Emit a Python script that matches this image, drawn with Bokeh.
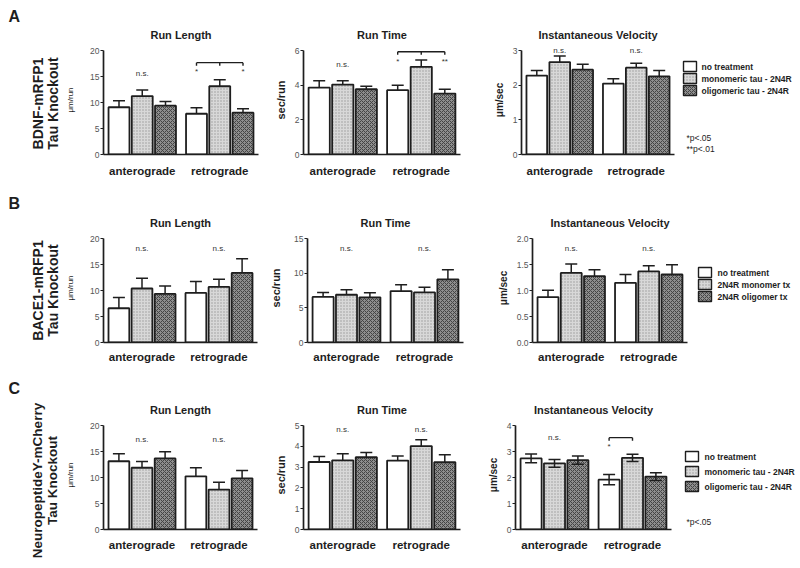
from bokeh.plotting import figure
from bokeh.models import (FactorRange, Range1d, FixedTicker, ColumnDataSource,
                          NumeralTickFormatter)
from bokeh.transform import dodge
from bokeh.layouts import column, row
from bokeh.embed import file_html
from bokeh.resources import INLINE
from bokeh.core.properties import value
import math

FONT = "Liberation Sans"
DARK = "#1e1e1e"

groups = ["anterograde", "retrograde"]
treat_ac = ["no treatment", "monomeric tau - 2N4R", "oligomeric tau - 2N4R"]
treat_b = ["no treatment", "2N4R monomer tx", "2N4R oligomer tx"]
panel_titles = ["Run Length", "Run Time", "Instantaneous Velocity"]
y_labels = ["μm/run", "sec/run", "μm/sec"]
row_letters = ["A", "B", "C"]
row_names = [("BDNF-mRFP1", "Tau Knockout"),
             ("BACE1-mRFP1", "Tau Knockout"),
             ("NeuropeptideY-mCherry", "Tau Knockout")]
p_notes_a = ["*p<.05", "**p<.01"]
p_notes_c = ["*p<.05"]

# order: anterograde (none, monomer, oligomer), retrograde (none, monomer, oligomer)
a_rl_mean = [9.1, 11.25, 9.4, 7.85, 13.15, 8.05]
a_rl_err = [1.25, 1.2, 0.8, 1.15, 1.25, 0.75]
a_rt_mean = [3.87, 4.04, 3.77, 3.72, 5.07, 3.52]
a_rt_err = [0.39, 0.22, 0.18, 0.28, 0.39, 0.25]
a_v_mean = [2.28, 2.67, 2.45, 2.05, 2.51, 2.26]
a_v_err = [0.15, 0.18, 0.16, 0.14, 0.13, 0.17]

b_rl_mean = [6.6, 10.4, 9.35, 9.55, 10.7, 13.4]
b_rl_err = [2.05, 2.0, 1.55, 2.2, 1.5, 2.75]
b_rt_mean = [6.58, 6.9, 6.53, 7.43, 7.24, 9.13]
b_rt_err = [0.66, 0.72, 0.66, 0.9, 0.76, 1.37]
b_v_mean = [0.875, 1.34, 1.28, 1.15, 1.37, 1.31]
b_v_err = [0.13, 0.17, 0.12, 0.16, 0.11, 0.19]

c_rl_mean = [13.15, 11.9, 13.7, 10.25, 7.7, 9.85]
c_rl_err = [1.45, 1.2, 1.3, 1.65, 1.4, 1.5]
c_rt_mean = [3.25, 3.33, 3.48, 3.32, 4.02, 3.24]
c_rt_err = [0.27, 0.32, 0.23, 0.22, 0.3, 0.36]
c_v_mean = [2.74, 2.55, 2.67, 1.92, 2.76, 2.04]
c_v_err = [0.17, 0.15, 0.16, 0.2, 0.14, 0.15]

ticks_rl = [0, 5, 10, 15, 20]
ticks_a_rt = [0, 2, 4, 6]
ticks_a_v = [0, 1, 2, 3]
ticks_b_rt = [0, 5, 10, 15]
ticks_b_v = [0, 0.5, 1.0, 1.5, 2.0]
ticks_c_rt = [0, 1, 2, 3, 4, 5]
ticks_c_v = [0, 1, 2, 3, 4]

# groups marked "n.s." per panel
ns_a = [["anterograde"], ["anterograde"], ["anterograde", "retrograde"]]
ns_b = [groups, groups, groups]
ns_c = [groups, groups, ["anterograde"]]

OFFS = [-0.3, 0.0, 0.3]
BAR_W = 0.27
YPAD = 1.05
BAR_STYLES = [
    dict(fill_color="white"),
    dict(fill_color="#d8d8d8", hatch_pattern="dot", hatch_color="#999999", hatch_scale=3, hatch_weight=1),
    dict(fill_color="#8e8e8e", hatch_pattern="diagonal_cross", hatch_color="#444444", hatch_scale=4, hatch_weight=1),
]


def make_panel(pi, means, errs, ticks, fmt, geo, ns_groups, ns_frac, xstand, ylab_stand,
               two_sided=False):
    mbl, fw, mbr, mbt, fh, mbb = geo
    xr = FactorRange(*groups, range_padding=0)
    ymax = ticks[-1]
    p = figure(x_range=xr, y_range=Range1d(0, ymax * YPAD), frame_width=fw, frame_height=fh,
               min_border_left=mbl, min_border_right=mbr, min_border_top=mbt,
               min_border_bottom=mbb, output_backend="svg", toolbar_location=None,
               outline_line_color=None, background_fill_color="white",
               border_fill_color="white")
    p.grid.visible = False
    p.title.text = panel_titles[pi]
    p.title.align = "center"
    p.title.offset = -5
    p.title.text_font = FONT
    p.title.text_font_size = "11px"
    p.title.text_font_style = "bold"
    p.title.text_color = DARK
    p.title.standoff = 9

    ya = p.yaxis[0]
    ya.bounds = (0, ymax)
    ya.ticker = FixedTicker(ticks=ticks)
    if fmt:
        ya.formatter = NumeralTickFormatter(format=fmt)
    ya.axis_line_width = 1.7
    ya.axis_line_color = DARK
    ya.major_tick_line_color = DARK
    ya.major_tick_line_width = 1.2
    ya.major_tick_out = 3
    ya.major_tick_in = 0
    ya.minor_tick_line_color = None
    ya.major_label_text_font = FONT
    ya.major_label_text_font_size = "8.5px"
    ya.major_label_text_color = "#555555"
    ya.major_label_standoff = 1
    ya.axis_label = y_labels[pi]
    ya.axis_label_text_font = FONT
    ya.axis_label_text_color = DARK
    ya.axis_label_standoff = ylab_stand
    if pi == 0:
        ya.axis_label_text_font_size = "8px"
        ya.axis_label_text_font_style = "normal"
    else:
        ya.axis_label_text_font_size = "11px" if pi == 1 else "10px"
        ya.axis_label_text_font_style = "bold"

    xa = p.xaxis[0]
    xa.axis_line_width = 1.7
    xa.axis_line_color = DARK
    xa.major_tick_line_color = None
    xa.major_tick_out = 0
    xa.major_tick_in = 0
    xa.major_label_standoff = xstand
    xa.major_label_text_font = FONT
    xa.major_label_text_font_size = "11.5px"
    xa.major_label_text_font_style = "bold"
    xa.major_label_text_color = DARK

    for i in range(3):
        tops = [means[gi * 3 + i] for gi in range(len(groups))]
        es = [errs[gi * 3 + i] for gi in range(len(groups))]
        src = ColumnDataSource(dict(g=groups, top=tops,
                                    upper=[a + b for a, b in zip(tops, es)],
                                    lower=[a - b for a, b in zip(tops, es)]))
        xd = dodge("g", OFFS[i], range=xr)
        if not two_sided:
            p.segment(x0=xd, y0="top", x1=xd, y1="upper", source=src,
                      line_color=DARK, line_width=1.5)
            p.scatter(x=xd, y="upper", marker="dash", size=12, source=src,
                      line_color=DARK, line_width=1.5)
        p.vbar(x=xd, top="top", width=BAR_W, source=src, line_color=DARK,
               line_width=1.8, **BAR_STYLES[i])
        if two_sided:
            p.segment(x0=xd, y0="lower", x1=xd, y1="upper", source=src,
                      line_color=DARK, line_width=1.5)
            for col in ("upper", "lower"):
                p.scatter(x=xd, y=col, marker="dash", size=12, source=src,
                          line_color=DARK, line_width=1.5)

    p.text(x=ns_groups, y=[ymax * ns_frac] * len(ns_groups), text=["n.s."] * len(ns_groups),
           text_align="center", text_baseline="middle", text_font=value(FONT),
           text_font_size="8px", text_color="#333333")
    return p


def add_bracket(p, g, i0, i1, yfrac, stars, mid=False):
    xr = p.x_range
    ymax = p.y_range.end / YPAD
    yb = ymax * yfrac
    d = ymax * 0.03
    src = ColumnDataSource(dict(g=[g], yb=[yb], yt=[yb - d], ys=[yb - ymax * 0.09]))
    kw = dict(source=src, line_color=DARK, line_width=1.4)
    p.segment(x0=dodge("g", OFFS[i0], range=xr), y0="yb",
              x1=dodge("g", OFFS[i1], range=xr), y1="yb", **kw)
    ends = [OFFS[i0], OFFS[i1]] + ([(OFFS[i0] + OFFS[i1]) / 2] if mid else [])
    for o in ends:
        p.segment(x0=dodge("g", o, range=xr), y0="yb", x1=dodge("g", o, range=xr), y1="yt", **kw)
    for o, s in zip([OFFS[i0], OFFS[i1]], stars):
        if s:
            p.text(x=dodge("g", o, range=xr), y="ys", text=value(s), source=src,
                   text_align="center", text_baseline="middle", text_font=value(FONT),
                   text_font_size="8px", text_color="#333333")


def blank_fig(w, h):
    p = figure(width=w, height=h, x_range=Range1d(0, w), y_range=Range1d(0, h),
               min_border=0, toolbar_location=None, output_backend="svg",
               x_axis_type=None, y_axis_type=None, outline_line_color=None,
               background_fill_color="white", border_fill_color="white")
    p.grid.visible = False
    return p


def label_fig(ri, h, ycenter, letter_y):
    w = 60
    p = blank_fig(w, h)
    p.text(x=[8], y=[h - letter_y], text=[row_letters[ri]], text_align="left",
           text_baseline="top", text_font=value(FONT), text_font_size="16px",
           text_font_style="bold", text_color=DARK)
    sz = "13.5px" if len(row_names[ri][0]) > 15 else "14px"
    p.text(x=[37, 52], y=[h - ycenter] * 2, text=list(row_names[ri]), angle=math.pi / 2,
           text_align="center", text_baseline="middle", text_font=value(FONT),
           text_font_size=sz, text_font_style="bold", text_color=DARK)
    return p


def legend_fig(w, h, treats, sw_x, ys, tx, notes=(), note_x=0, note_ys=()):
    p = blank_fig(w, h)
    for i, t in enumerate(treats):
        p.rect(x=[sw_x + 6.5], y=[h - ys[i]], width=13, height=10, line_color=DARK,
               line_width=1.4, **BAR_STYLES[i])
    p.text(x=[tx] * len(treats), y=[h - y for y in ys], text=treats, text_align="left",
           text_baseline="middle", text_font=value(FONT), text_font_size="8.5px",
           text_font_style="bold", text_color=DARK)
    if notes:
        p.text(x=[note_x] * len(notes), y=[h - y for y in note_ys], text=list(notes),
               text_align="left", text_baseline="middle", text_font=value(FONT),
               text_font_size="8.5px", text_color=DARK)
    return p


# ---- Row A (height 190)
A = [(43, 155, 7, 45, 109, 36), (38, 157, 30, 45, 109, 36), (30, 153, 5, 45, 109, 36)]
a1 = make_panel(0, a_rl_mean, a_rl_err, ticks_rl, None, A[0], ns_a[0], 0.78, 10, 12)
a2 = make_panel(1, a_rt_mean, a_rt_err, ticks_a_rt, None, A[1], ns_a[1], 0.87, 10, 5)
a3 = make_panel(2, a_v_mean, a_v_err, ticks_a_v, None, A[2], ns_a[2], 1.0, 10, 5)
add_bracket(a1, "retrograde", 0, 2, 0.885, ["*", "*"], mid=True)
add_bracket(a2, "retrograde", 0, 2, 0.99, ["*", "**"], mid=True)
aL = label_fig(0, 190, 103, 7)
aR = legend_fig(120, 190, treat_ac, 4, [66, 78, 90], 22, p_notes_a, 7, [137, 148])

# ---- Row B (height 185)
B = [(43, 154, 7, 43, 109, 33), (43, 156, 31, 43, 109, 33), (34, 155, 5, 43, 109, 33)]
b1 = make_panel(0, b_rl_mean, b_rl_err, ticks_rl, None, B[0], ns_b[0], 0.91, 8, 12)
b2 = make_panel(1, b_rt_mean, b_rt_err, ticks_b_rt, None, B[1], ns_b[1], 0.91, 8, 9)
b3 = make_panel(2, b_v_mean, b_v_err, ticks_b_v, "0.0", B[2], ns_b[2], 0.91, 8, 5)
bL = label_fig(1, 185, 100, 4)
bR = legend_fig(110, 185, treat_b, 6, [82, 94, 106], 25)

# ---- Row C (height 192)
C = [(43, 154, 8, 45, 109, 38), (38, 157, 24, 45, 109, 38), (30, 156, 5, 45, 109, 38)]
c1 = make_panel(0, c_rl_mean, c_rl_err, ticks_rl, None, C[0], ns_c[0], 0.865, 9, 12)
c2 = make_panel(1, c_rt_mean, c_rt_err, ticks_c_rt, None, C[1], ns_c[1], 0.96, 9, 5)
c3 = make_panel(2, c_v_mean, c_v_err, ticks_c_v, None, C[2], ns_c[2], 0.885, 9, 5,
                two_sided=True)
add_bracket(c3, "retrograde", 0, 1, 0.885, ["*", None])
cL = label_fig(2, 192, 105, 4)
cR = legend_fig(123, 192, treat_ac, 9, [81, 96, 111], 28, p_notes_c, 10, [146])

layout = column(row(aL, row(a1, a2, a3), aR),
                row(bL, row(b1, b2, b3), bR),
                row(cL, row(c1, c2, c3), cR))
open("out.html", "w").write(file_html(layout, INLINE))
